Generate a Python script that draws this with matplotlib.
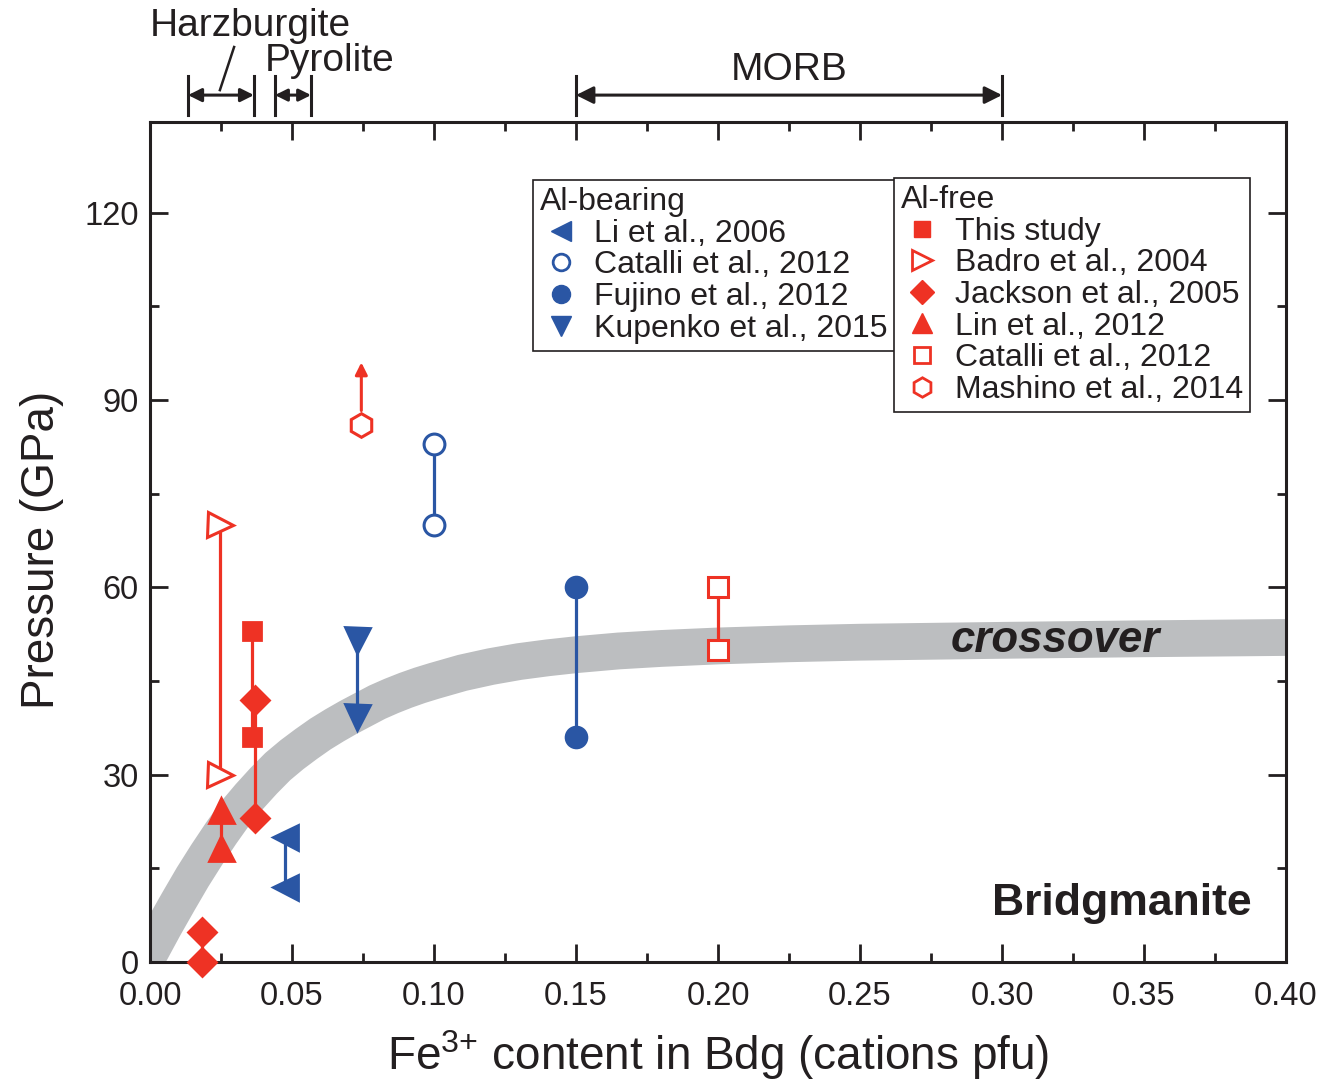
import matplotlib
matplotlib.use('Agg')
import matplotlib.pyplot as plt
from matplotlib.lines import Line2D
from matplotlib.ticker import MultipleLocator, FormatStrFormatter

plt.rcParams['font.family'] = ['Liberation Sans', 'DejaVu Sans']
plt.rcParams['mathtext.fontset'] = 'custom'
plt.rcParams['mathtext.rm'] = 'Liberation Sans'
plt.rcParams['mathtext.it'] = 'Liberation Sans:italic'
plt.rcParams['mathtext.bf'] = 'Liberation Sans:bold'

RED = '#EE3224'
BLUE = '#2A56A4'
BLACK = '#231F20'
GREY = '#BCBEC0'

# crossover band centre line
band_x = [-0.006, 0.000, 0.005, 0.010, 0.015, 0.020, 0.025, 0.030, 0.035, 0.040,
          0.045, 0.050, 0.055, 0.060, 0.065, 0.070, 0.075, 0.080, 0.085, 0.090,
          0.095, 0.100, 0.110, 0.120, 0.130, 0.140, 0.150, 0.165, 0.180, 0.200,
          0.225, 0.250, 0.300, 0.350, 0.410]
band_y = [-4.0, 1.5, 5.7, 9.7, 13.6, 17.2, 20.6, 23.8, 26.5, 29.0,
          31.3, 33.2, 34.9, 36.5, 37.9, 39.2, 40.4, 41.6, 42.6, 43.5,
          44.3, 45.0, 46.3, 47.3, 48.1, 48.7, 49.2, 49.8, 50.2, 50.6,
          50.95, 51.2, 51.5, 51.75, 52.0]

# Al-bearing
li_x = [0.0475, 0.0475]
li_p = [20, 12]
catalli_b_x = [0.100, 0.100]
catalli_b_p = [83, 70]
fujino_x = [0.150, 0.150]
fujino_p = [60, 36]
kupenko_x = [0.073, 0.073]
kupenko_p = [51.5, 39.3]

# Al-free
this_x = [0.036, 0.036]
this_p = [53, 36]
badro_x = [0.0246, 0.0246]
badro_p = [70, 30]
jackson1_x = [0.037, 0.037]
jackson1_p = [42, 23]
jackson2_x = [0.0184, 0.0184]
jackson2_p = [4.8, 0]
lin_x = [0.025, 0.025]
lin_p = [24.4, 18.3]
catalli_r_x = [0.200, 0.200]
catalli_r_p = [60, 50]
mashino_x = [0.0744]
mashino_p = [86]
mashino_arrow_top = 96

# composition ranges on top
harz_range = [0.0134, 0.0366]
pyro_range = [0.044, 0.0567]
morb_range = [0.150, 0.300]

fig = plt.figure(figsize=(13.36, 10.86), dpi=100)
ax = fig.add_axes([0.1123, 0.1142, 0.8503, 0.7735])

ax.plot(band_x, band_y, color=GREY, lw=26.5, solid_capstyle='butt', zorder=1)


def pair(x, p, color, marker, ms, filled=True, mew=2.0):
    ax.plot(x, p, color=color, lw=2.3, zorder=3, clip_on=False)
    ax.plot(x, p, ls='none', marker=marker, ms=ms, color=color,
            mfc=color if filled else 'white', mec=color, mew=mew,
            zorder=4, clip_on=False)


pair(li_x, li_p, BLUE, '<', 18)
pair(catalli_b_x, catalli_b_p, BLUE, 'o', 15, filled=False, mew=2.2)
pair(fujino_x, fujino_p, BLUE, 'o', 15)
pair(kupenko_x, kupenko_p, BLUE, 'v', 18)

pair(badro_x, badro_p, RED, '>', 18, filled=False, mew=2.2)
pair(this_x, this_p, RED, 's', 13.5)
pair(jackson1_x, jackson1_p, RED, 'D', 14)
pair(jackson2_x, jackson2_p, RED, 'D', 14)
pair(lin_x, lin_p, RED, '^', 18)
pair(catalli_r_x, catalli_r_p, RED, 's', 14, filled=False, mew=2.2)

ax.annotate('', xy=(mashino_x[0], mashino_arrow_top), xytext=(mashino_x[0], mashino_p[0] + 2.3),
            arrowprops=dict(arrowstyle='-|>', color=RED, lw=2.2, mutation_scale=18,
                            shrinkA=0, shrinkB=0), zorder=3)
ax.plot(mashino_x, mashino_p, ls='none', marker='h', ms=17, mfc='white', mec=RED,
        mew=2.2, zorder=4)

# text labels inside
ax.text(0.3187, 49.7, 'crossover', fontsize=31.5, fontweight='bold', fontstyle='italic',
        ha='center', va='baseline', color=BLACK, zorder=5)
ax.text(0.388, 7.5, 'Bridgmanite', fontsize=32, fontweight='bold',
        ha='right', va='baseline', color=BLACK, zorder=5)

# ranges above the plot
y_arrow = 138.8
for rng, ms in [(harz_range, 20), (pyro_range, 18), (morb_range, 26)]:
    for xv in rng:
        ax.plot([xv, xv], [135.6, 141.8], color=BLACK, lw=2.2, clip_on=False)
    ax.annotate('', xy=(rng[1], y_arrow), xytext=(rng[0], y_arrow),
                arrowprops=dict(arrowstyle='<|-|>', color=BLACK, lw=2.2,
                                mutation_scale=ms, shrinkA=0, shrinkB=0),
                annotation_clip=False)
ax.plot([0.0296, 0.0246], [146.5, 139.6], color=BLACK, lw=1.8, clip_on=False)
ax.text(0.0, 148.3, 'Harzburgite', fontsize=28, ha='left', va='baseline', color=BLACK)
ax.text(0.0405, 142.6, 'Pyrolite', fontsize=28, ha='left', va='baseline', color=BLACK)
ax.text(0.225, 141.2, 'MORB', fontsize=28, ha='center', va='baseline', color=BLACK)

ax.set_xlim(0, 0.40)
ax.set_ylim(0, 134.5)
ax.xaxis.set_major_locator(MultipleLocator(0.05))
ax.xaxis.set_minor_locator(MultipleLocator(0.025))
ax.xaxis.set_major_formatter(FormatStrFormatter('%.2f'))
ax.yaxis.set_major_locator(MultipleLocator(30))
ax.yaxis.set_minor_locator(MultipleLocator(15))

for s in ax.spines.values():
    s.set_linewidth(2.2)
    s.set_color(BLACK)
    s.set_zorder(3.5)
ax.tick_params(which='both', direction='in', top=True, right=True, width=2.0,
               color=BLACK, labelsize=23.5, labelcolor=BLACK)
ax.tick_params(which='major', length=13)
ax.tick_params(which='minor', length=6.5)
ax.tick_params(axis='x', pad=14)
ax.tick_params(axis='y', pad=8)

ax.set_xlabel('Fe$^{3{+}}$ content in Bdg (cations pfu)', fontsize=33, color=BLACK, labelpad=11)
ax.set_ylabel('Pressure (GPa)', fontsize=33, color=BLACK)
ax.yaxis.set_label_coords(-0.076, 0.49)

# legends
leg_kw = dict(loc='upper left', bbox_transform=fig.transFigure, fontsize=23,
              title_fontsize=23, frameon=True, fancybox=False, framealpha=1,
              edgecolor=BLACK, borderpad=0.22, labelspacing=0.05, handlelength=1.3,
              handletextpad=0.4, alignment='left', borderaxespad=0)

h_bear = [
    Line2D([], [], ls='none', marker='<', ms=15, color=BLUE),
    Line2D([], [], ls='none', marker='o', ms=12, mfc='white', mec=BLUE, mew=2),
    Line2D([], [], ls='none', marker='o', ms=13, color=BLUE),
    Line2D([], [], ls='none', marker='v', ms=15, color=BLUE),
]
l_bear = ['Li et al., 2006', 'Catalli et al., 2012', 'Fujino et al., 2012', 'Kupenko et al., 2015']
lg1 = fig.legend(h_bear, l_bear, title='Al-bearing', bbox_to_anchor=(0.399, 0.834), **leg_kw)

h_free = [
    Line2D([], [], ls='none', marker='s', ms=12, color=RED),
    Line2D([], [], ls='none', marker='>', ms=14, mfc='white', mec=RED, mew=2),
    Line2D([], [], ls='none', marker='D', ms=12, color=RED),
    Line2D([], [], ls='none', marker='^', ms=15, color=RED),
    Line2D([], [], ls='none', marker='s', ms=11, mfc='white', mec=RED, mew=2),
    Line2D([], [], ls='none', marker='h', ms=14, mfc='white', mec=RED, mew=2),
]
l_free = ['This study', 'Badro et al., 2004', 'Jackson et al., 2005', 'Lin et al., 2012',
          'Catalli et al., 2012', 'Mashino et al., 2014']
lg2 = fig.legend(h_free, l_free, title='Al-free', bbox_to_anchor=(0.669, 0.836), **leg_kw)
for lg in (lg1, lg2):
    lg.get_frame().set_linewidth(1.2)
    lg.get_title().set_color(BLACK)
    for t in lg.get_texts():
        t.set_color(BLACK)

fig.savefig('out.png', dpi=100)
